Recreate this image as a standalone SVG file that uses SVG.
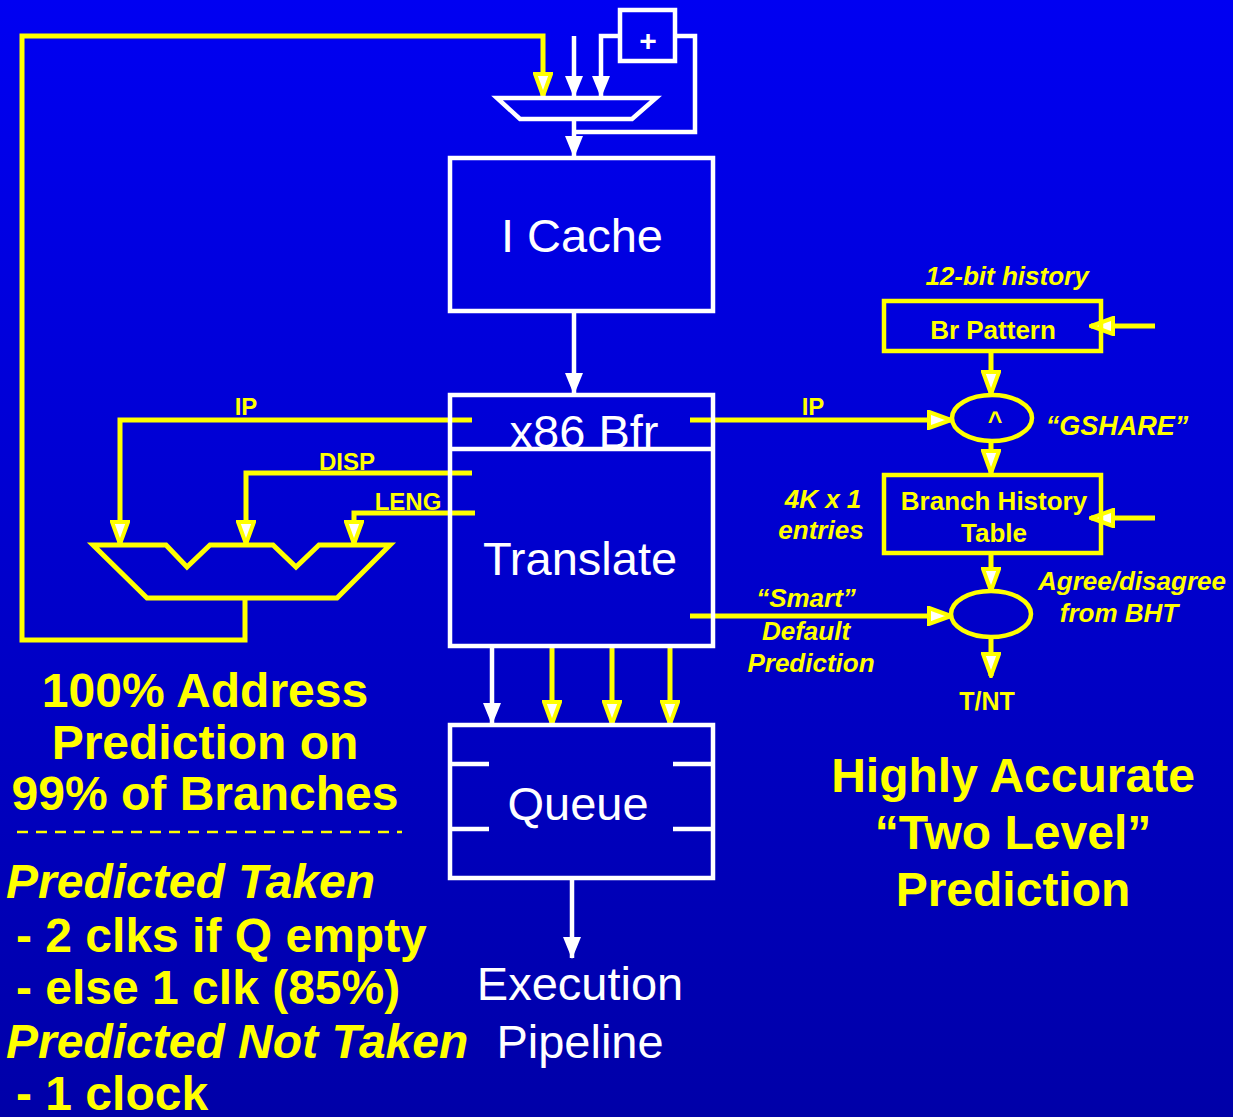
<svg xmlns="http://www.w3.org/2000/svg" width="1233" height="1117" viewBox="0 0 1233 1117">
  <defs>
    <linearGradient id="bg" x1="0" y1="0" x2="0" y2="1">
      <stop offset="0" stop-color="#0000F2"/>
      <stop offset="1" stop-color="#0000A8"/>
    </linearGradient>
    <marker id="ay" viewBox="0 0 26 20" refX="24" refY="10" markerWidth="26" markerHeight="20" markerUnits="userSpaceOnUse" orient="auto">
      <path d="M2,2 L24,10 L2,18 Z" fill="#FFFFFF" stroke="#FFFF00" stroke-width="4" stroke-linejoin="miter"/>
    </marker>
    <marker id="aw" viewBox="0 0 22 18" refX="21" refY="9" markerWidth="22" markerHeight="18" markerUnits="userSpaceOnUse" orient="auto">
      <path d="M0,0 L22,9 L0,18 Z" fill="#FFFFFF"/>
    </marker>
  </defs>
  <style>
    .wl { fill: none; stroke: #FFFFFF; stroke-width: 4.5; }
    .yl { fill: none; stroke: #FFFF00; stroke-width: 5; }
    .wbox { fill: none; stroke: #FFFFFF; stroke-width: 4.5; }
    .ybox { fill: none; stroke: #FFFF00; stroke-width: 4.5; }
    .wt { font-family: "Liberation Sans", Arial, sans-serif; fill: #FFFFFF; text-anchor: middle; }
    .yt { font-family: "Liberation Sans", Arial, sans-serif; fill: #FFFF00; font-weight: bold; }
    .c { text-anchor: middle; }
    .i { font-style: italic; }
  </style>
  <rect x="0" y="0" width="1233" height="1117" fill="url(#bg)"/>

  <g id="connectors">
    <path class="yl" d="M245,598 V640 H22 V36 H543 V96" marker-end="url(#ay)"/>
    <path class="wl" d="M574,36 V97" marker-end="url(#aw)"/>
    <path class="wl" d="M618,36 H601 V97" marker-end="url(#aw)"/>
    <path class="wl" d="M677,36 H695 V132 H574"/>
    <path class="wl" d="M574,119 V157" marker-end="url(#aw)"/>
    <path class="wl" d="M574,313 V394" marker-end="url(#aw)"/>
    <path class="yl" d="M472,420 H120 V544" marker-end="url(#ay)"/>
    <path class="yl" d="M472,473 H246 V544" marker-end="url(#ay)"/>
    <path class="yl" d="M475,513 H354 V544" marker-end="url(#ay)"/>
    <path class="yl" d="M690,420 H951" marker-end="url(#ay)"/>
    <path class="yl" d="M690,616 H951" marker-end="url(#ay)"/>
    <path class="yl" d="M991,352 V394" marker-end="url(#ay)"/>
    <path class="yl" d="M991,441 V473" marker-end="url(#ay)"/>
    <path class="yl" d="M991,554 V591" marker-end="url(#ay)"/>
    <path class="yl" d="M991,637 V676" marker-end="url(#ay)"/>
    <path class="yl" d="M1155,326 H1091" marker-end="url(#ay)"/>
    <path class="yl" d="M1155,518 H1091" marker-end="url(#ay)"/>
    <path class="wl" d="M492,648 V724" marker-end="url(#aw)"/>
    <path class="yl" d="M552,648 V724" marker-end="url(#ay)"/>
    <path class="yl" d="M612,648 V724" marker-end="url(#ay)"/>
    <path class="yl" d="M670,648 V724" marker-end="url(#ay)"/>
    <path class="wl" d="M572,880 V958" marker-end="url(#aw)"/>
  </g>

  <g id="adder">
    <rect class="wbox" x="620" y="10" width="55" height="51"/>
    <text class="wt" x="648" y="51" font-size="30" font-weight="bold">+</text>
  </g>

  <g id="top-mux">
    <polygon class="wbox" points="497,98 656,98 632,119 520,119"/>
  </g>

  <g id="icache">
    <rect class="wbox" x="450" y="158" width="263" height="153"/>
    <text class="wt" x="582" y="252" font-size="47">I Cache</text>
  </g>

  <g id="x86bfr-translate">
    <text class="wt" x="584" y="448" font-size="47">x86 Bfr</text>
    <rect class="wbox" x="450" y="395" width="263" height="251"/>
    <line class="wl" x1="450" y1="449" x2="713" y2="449"/>
    <text class="wt" x="580" y="575" font-size="47">Translate</text>
  </g>

  <g id="queue">
    <rect class="wbox" x="450" y="725" width="263" height="153"/>
    <path class="wl" d="M450,764 H489 M450,829 H489 M673,764 H713 M673,829 H713"/>
    <text class="wt" x="578" y="820" font-size="47">Queue</text>
  </g>

  <g id="execution">
    <text class="wt" x="580" y="1000" font-size="47">Execution</text>
    <text class="wt" x="580" y="1058" font-size="47">Pipeline</text>
  </g>

  <g id="address-adder">
    <polygon class="yl" points="93,545 166,545 187,567 210,545 273,545 296,567 319,545 390,545 337,598 147,598"/>
  </g>

  <g id="left-labels">
    <text class="yt c" x="246" y="415" font-size="24">IP</text>
    <text class="yt c" x="347" y="470" font-size="24">DISP</text>
    <text class="yt c" x="408" y="510" font-size="24">LENG</text>
  </g>

  <g id="br-pattern">
    <text class="yt c i" x="1007" y="285" font-size="26">12-bit history</text>
    <rect class="ybox" x="884" y="301" width="217" height="50"/>
    <text class="yt c" x="993" y="339" font-size="26">Br Pattern</text>
  </g>

  <g id="gshare">
    <ellipse class="ybox" cx="992" cy="418" rx="40" ry="23"/>
    <text class="yt c" x="995" y="430" font-size="25">^</text>
    <text class="yt c" x="813" y="415" font-size="24">IP</text>
    <text class="yt c i" x="1117" y="435" font-size="27">“GSHARE”</text>
  </g>

  <g id="bht">
    <rect class="ybox" x="884" y="475" width="217" height="78"/>
    <text class="yt c" x="994" y="510" font-size="26">Branch History</text>
    <text class="yt c" x="994" y="542" font-size="26">Table</text>
    <text class="yt c i" x="823" y="508" font-size="26">4K x 1</text>
    <text class="yt c i" x="821" y="539" font-size="26">entries</text>
  </g>

  <g id="agree">
    <ellipse class="ybox" cx="991" cy="614" rx="40" ry="23"/>
    <text class="yt c i" x="806" y="607" font-size="26">“Smart”</text>
    <text class="yt c i" x="806" y="640" font-size="26">Default</text>
    <text class="yt c i" x="811" y="672" font-size="26">Prediction</text>
    <text class="yt c i" x="1132" y="590" font-size="26">Agree/disagree</text>
    <text class="yt c i" x="1119" y="622" font-size="26">from BHT</text>
    <text class="yt c" x="987" y="710" font-size="25">T/NT</text>
  </g>

  <g id="right-title">
    <text class="yt c" x="1013" y="792" font-size="48">Highly Accurate</text>
    <text class="yt c" x="1013" y="849" font-size="48">“Two Level”</text>
    <text class="yt c" x="1013" y="906" font-size="48">Prediction</text>
  </g>

  <g id="left-notes">
    <text class="yt c" x="205" y="707" font-size="48">100% Address</text>
    <text class="yt c" x="205" y="759" font-size="48">Prediction on</text>
    <text class="yt c" x="205" y="810" font-size="48">99% of Branches</text>
    <line x1="17" y1="832" x2="402" y2="832" stroke="#FFFF00" stroke-width="2.5" stroke-dasharray="11,8"/>
    <text class="yt i" x="6" y="898" font-size="48">Predicted Taken</text>
    <text class="yt" x="16" y="952" font-size="48">- 2 clks if Q empty</text>
    <text class="yt" x="16" y="1004" font-size="48">- else 1 clk (85%)</text>
    <text class="yt i" x="6" y="1058" font-size="48">Predicted Not Taken</text>
    <text class="yt" x="16" y="1110" font-size="48">- 1 clock</text>
  </g>
</svg>
